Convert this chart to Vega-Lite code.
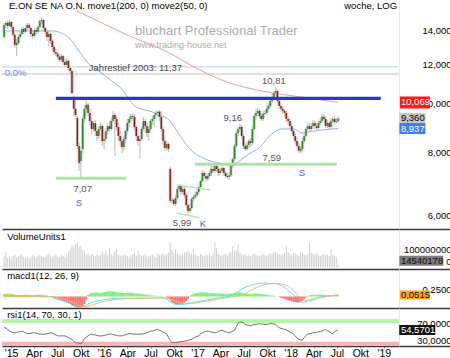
{
"$schema":"https://vega.github.io/schema/vega-lite/v6.json",
"padding":0,
"background":"white",
"spacing":0,
"bounds":"flush",
"config":{"font":"Liberation Sans","view":{"stroke":null},"axis":{"grid":false,"labelFont":"Liberation Sans","labelColor":"#000000","labelFontSize":9.5,"labelOverlap":false,"labelFlush":false,"title":null}},
"datasets":{
"w":[
{"d":"2014-12-05","o":13.59,"h":14.49,"l":13.47,"c":14.36,"v":60000000,"r":61,"m":0.02,"s":0,"hi":0.08},
{"d":"2014-12-12","o":14.36,"h":14.62,"l":14.16,"c":14.49,"v":82000000,"r":59,"m":0.02,"s":0,"hi":0.09},
{"d":"2014-12-19","o":14.49,"h":14.69,"l":14.10,"c":14.29,"v":52000000,"r":55,"m":0.02,"s":0,"hi":0.1},
{"d":"2014-12-26","o":14.29,"h":14.69,"l":14.23,"c":14.55,"v":58000000,"r":53,"m":0.02,"s":0,"hi":0.1},
{"d":"2015-01-02","o":14.55,"h":14.62,"l":14.10,"c":14.23,"v":45000000,"r":50,"m":0.02,"s":0,"hi":0.09},
{"d":"2015-01-09","o":14.23,"h":14.29,"l":13.59,"c":13.72,"v":62000000,"r":48,"m":0.02,"s":0,"hi":0.08},
{"d":"2015-01-16","o":13.72,"h":13.84,"l":12.93,"c":13.10,"v":70000000,"r":48,"m":0.02,"s":0,"hi":0.06},
{"d":"2015-01-23","o":13.10,"h":13.47,"l":12.46,"c":13.22,"v":55000000,"r":49,"m":0.02,"s":0,"hi":0.05},
{"d":"2015-01-30","o":13.22,"h":13.72,"l":13.10,"c":13.59,"v":60000000,"r":50,"m":0.02,"s":0,"hi":0.05},
{"d":"2015-02-06","o":13.59,"h":13.97,"l":13.47,"c":13.78,"v":66000000,"r":51,"m":0.02,"s":0,"hi":0.05},
{"d":"2015-02-13","o":13.78,"h":14.23,"l":13.72,"c":14.10,"v":72000000,"r":52,"m":0.02,"s":0,"hi":0.05},
{"d":"2015-02-20","o":14.10,"h":14.23,"l":13.78,"c":13.91,"v":55000000,"r":50,"m":0.02,"s":0,"hi":0.06},
{"d":"2015-02-27","o":13.91,"h":14.36,"l":13.84,"c":14.16,"v":52000000,"r":48,"m":0.02,"s":0,"hi":0.06},
{"d":"2015-03-06","o":14.16,"h":14.49,"l":14.03,"c":14.36,"v":60000000,"r":46,"m":0.02,"s":0,"hi":0.06},
{"d":"2015-03-13","o":14.36,"h":14.49,"l":14.03,"c":14.16,"v":48000000,"r":46,"m":0.02,"s":0,"hi":0.05},
{"d":"2015-03-20","o":14.16,"h":14.23,"l":13.59,"c":13.78,"v":58000000,"r":47,"m":0.02,"s":0,"hi":0.05},
{"d":"2015-03-27","o":13.78,"h":14.03,"l":13.47,"c":13.65,"v":66000000,"r":48,"m":0.02,"s":0,"hi":0.04},
{"d":"2015-04-03","o":13.65,"h":14.16,"l":13.53,"c":14.03,"v":60000000,"r":48,"m":0.02,"s":0,"hi":0.04},
{"d":"2015-04-10","o":14.03,"h":14.16,"l":13.78,"c":13.91,"v":52000000,"r":47,"m":0.02,"s":0,"hi":0.05},
{"d":"2015-04-17","o":13.91,"h":14.36,"l":13.78,"c":14.23,"v":63000000,"r":46,"m":0.02,"s":0,"hi":0.05},
{"d":"2015-04-24","o":14.23,"h":14.76,"l":14.16,"c":14.62,"v":70000000,"r":45,"m":0.02,"s":0,"hi":0.06},
{"d":"2015-05-01","o":14.62,"h":14.89,"l":14.42,"c":14.69,"v":62000000,"r":45,"m":0,"s":-0.01,"hi":0.06},
{"d":"2015-05-08","o":14.69,"h":14.76,"l":14.03,"c":14.16,"v":56000000,"r":45,"m":0,"s":-0.01,"hi":0.05},
{"d":"2015-05-15","o":14.16,"h":14.23,"l":13.78,"c":13.91,"v":54000000,"r":45,"m":0,"s":-0.01,"hi":0.04},
{"d":"2015-05-22","o":13.91,"h":13.97,"l":13.34,"c":13.59,"v":68000000,"r":46,"m":0,"s":-0.01,"hi":0.03},
{"d":"2015-05-29","o":13.59,"h":13.97,"l":13.04,"c":13.78,"v":75000000,"r":47,"m":0,"s":-0.01,"hi":0.02},
{"d":"2015-06-05","o":13.78,"h":13.84,"l":13.16,"c":13.34,"v":64000000,"r":48,"m":0,"s":-0.01,"hi":0.01},
{"d":"2015-06-12","o":13.34,"h":13.47,"l":12.75,"c":12.98,"v":58000000,"r":47,"m":-0.03,"s":-0.01,"hi":-0.03},
{"d":"2015-06-19","o":12.98,"h":13.10,"l":12.52,"c":12.69,"v":64000000,"r":45,"m":-0.05,"s":-0.01,"hi":-0.05},
{"d":"2015-06-26","o":12.69,"h":12.87,"l":12.46,"c":12.58,"v":70000000,"r":43,"m":-0.07,"s":-0.03,"hi":-0.06},
{"d":"2015-07-03","o":12.58,"h":12.69,"l":12.29,"c":12.41,"v":60000000,"r":41,"m":-0.09,"s":-0.04,"hi":-0.08},
{"d":"2015-07-10","o":12.41,"h":12.52,"l":12.12,"c":12.24,"v":56000000,"r":41,"m":-0.11,"s":-0.05,"hi":-0.1},
{"d":"2015-07-17","o":12.24,"h":12.58,"l":12.12,"c":12.46,"v":66000000,"r":41,"m":-0.13,"s":-0.07,"hi":-0.12},
{"d":"2015-07-24","o":12.46,"h":12.52,"l":11.96,"c":12.12,"v":62000000,"r":41,"m":-0.15,"s":-0.08,"hi":-0.14},
{"d":"2015-07-31","o":12.12,"h":12.29,"l":11.85,"c":11.96,"v":58000000,"r":41,"m":-0.17,"s":-0.1,"hi":-0.16},
{"d":"2015-08-07","o":11.96,"h":12.35,"l":11.85,"c":12.18,"v":68000000,"r":39,"m":-0.19,"s":-0.12,"hi":-0.19},
{"d":"2015-08-14","o":12.18,"h":12.24,"l":11.68,"c":11.79,"v":85000000,"r":37,"m":-0.21,"s":-0.14,"hi":-0.22},
{"d":"2015-08-21","o":11.79,"h":11.90,"l":11.47,"c":11.63,"v":98000000,"r":35,"m":-0.24,"s":-0.16,"hi":-0.25},
{"d":"2015-08-28","o":11.63,"h":11.74,"l":10.47,"c":10.51,"v":120000000,"r":33,"m":-0.28,"s":-0.18,"hi":-0.29},
{"d":"2015-09-04","o":10.28,"h":10.37,"l":9.47,"c":9.78,"v":108000000,"r":29,"m":-0.31,"s":-0.21,"hi":-0.32},
{"d":"2015-09-11","o":9.78,"h":10.23,"l":9.34,"c":9.51,"v":125000000,"r":26,"m":-0.33,"s":-0.24,"hi":-0.35},
{"d":"2015-09-18","o":9.38,"h":9.47,"l":8.14,"c":8.25,"v":135000000,"r":25,"m":-0.35,"s":-0.27,"hi":-0.36},
{"d":"2015-09-25","o":8.25,"h":8.37,"l":7.36,"c":7.63,"v":112000000,"r":24,"m":-0.36,"s":-0.29,"hi":-0.37},
{"d":"2015-10-02","o":7.70,"h":8.14,"l":7.10,"c":8.07,"v":118000000,"r":23,"m":-0.36,"s":-0.31,"hi":-0.36},
{"d":"2015-10-09","o":8.14,"h":9.47,"l":7.99,"c":9.34,"v":95000000,"r":28,"m":-0.34,"s":-0.32,"hi":-0.33},
{"d":"2015-10-16","o":9.34,"h":9.96,"l":9.17,"c":9.78,"v":88000000,"r":35,"m":-0.31,"s":-0.33,"hi":-0.25},
{"d":"2015-10-23","o":9.78,"h":10.14,"l":9.60,"c":9.96,"v":70000000,"r":38,"m":-0.28,"s":-0.33,"hi":-0.1},
{"d":"2015-10-30","o":9.96,"h":10.05,"l":9.47,"c":9.60,"v":76000000,"r":41,"m":-0.25,"s":-0.32,"hi":0.05},
{"d":"2015-11-06","o":9.60,"h":9.78,"l":9.08,"c":9.25,"v":64000000,"r":44,"m":-0.22,"s":-0.31,"hi":0.09},
{"d":"2015-11-13","o":9.25,"h":9.38,"l":8.68,"c":8.92,"v":72000000,"r":45,"m":-0.2,"s":-0.29,"hi":0.12},
{"d":"2015-11-20","o":8.92,"h":9.25,"l":8.80,"c":9.17,"v":66000000,"r":44,"m":-0.18,"s":-0.27,"hi":0.13},
{"d":"2015-11-27","o":9.17,"h":9.29,"l":8.64,"c":8.84,"v":60000000,"r":43,"m":-0.16,"s":-0.25,"hi":0.13},
{"d":"2015-12-04","o":8.84,"h":9.00,"l":8.44,"c":8.64,"v":70000000,"r":42,"m":-0.15,"s":-0.23,"hi":0.13},
{"d":"2015-12-11","o":8.64,"h":9.04,"l":8.52,"c":8.92,"v":64000000,"r":41,"m":-0.14,"s":-0.21,"hi":0.12},
{"d":"2015-12-18","o":8.92,"h":9.21,"l":8.84,"c":9.04,"v":68000000,"r":41,"m":-0.13,"s":-0.19,"hi":0.12},
{"d":"2015-12-25","o":9.04,"h":9.12,"l":8.25,"c":8.44,"v":82000000,"r":41,"m":-0.12,"s":-0.17,"hi":0.13},
{"d":"2016-01-01","o":8.44,"h":8.76,"l":8.14,"c":8.52,"v":75000000,"r":42,"m":-0.11,"s":-0.16,"hi":0.14},
{"d":"2016-01-08","o":8.52,"h":8.96,"l":8.40,"c":8.84,"v":92000000,"r":43,"m":-0.1,"s":-0.15,"hi":0.16},
{"d":"2016-01-15","o":8.84,"h":9.17,"l":8.72,"c":9.04,"v":70000000,"r":44,"m":-0.09,"s":-0.14,"hi":0.17},
{"d":"2016-01-22","o":9.04,"h":9.25,"l":8.80,"c":8.92,"v":104000000,"r":45,"m":-0.08,"s":-0.13,"hi":0.18},
{"d":"2016-01-29","o":8.92,"h":9.38,"l":8.84,"c":9.25,"v":72000000,"r":45,"m":-0.08,"s":-0.12,"hi":0.18},
{"d":"2016-02-05","o":9.25,"h":9.69,"l":9.17,"c":9.51,"v":66000000,"r":44,"m":-0.07,"s":-0.11,"hi":0.17},
{"d":"2016-02-12","o":9.51,"h":9.60,"l":7.88,"c":9.34,"v":88000000,"r":43,"m":-0.07,"s":-0.1,"hi":0.16},
{"d":"2016-02-19","o":9.34,"h":9.47,"l":8.84,"c":9.00,"v":100000000,"r":42,"m":-0.07,"s":-0.1,"hi":0.15},
{"d":"2016-02-26","o":9.00,"h":9.17,"l":8.44,"c":8.64,"v":70000000,"r":41,"m":-0.07,"s":-0.09,"hi":0.14},
{"d":"2016-03-04","o":8.64,"h":8.84,"l":8.25,"c":8.44,"v":64000000,"r":41,"m":-0.07,"s":-0.09,"hi":0.13},
{"d":"2016-03-11","o":8.44,"h":8.56,"l":7.99,"c":8.21,"v":60000000,"r":41,"m":-0.06,"s":-0.08,"hi":0.13},
{"d":"2016-03-18","o":8.21,"h":8.64,"l":8.07,"c":8.52,"v":72000000,"r":42,"m":-0.06,"s":-0.08,"hi":0.12},
{"d":"2016-03-25","o":8.52,"h":8.92,"l":8.37,"c":8.84,"v":68000000,"r":44,"m":-0.06,"s":-0.08,"hi":0.12},
{"d":"2016-04-01","o":8.84,"h":9.34,"l":8.72,"c":9.17,"v":62000000,"r":45,"m":-0.06,"s":-0.07,"hi":0.13},
{"d":"2016-04-08","o":9.17,"h":9.47,"l":9.00,"c":9.34,"v":58000000,"r":46,"m":-0.06,"s":-0.07,"hi":0.13},
{"d":"2016-04-15","o":9.34,"h":9.56,"l":9.17,"c":9.47,"v":66000000,"r":46,"m":-0.06,"s":-0.07,"hi":0.13},
{"d":"2016-04-22","o":9.47,"h":9.60,"l":9.25,"c":9.43,"v":70000000,"r":45,"m":-0.06,"s":-0.07,"hi":0.12},
{"d":"2016-04-29","o":9.43,"h":9.56,"l":8.84,"c":9.00,"v":80000000,"r":45,"m":-0.06,"s":-0.07,"hi":0.11},
{"d":"2016-05-06","o":9.00,"h":9.08,"l":8.44,"c":8.64,"v":64000000,"r":45,"m":-0.06,"s":-0.06,"hi":0.1},
{"d":"2016-05-13","o":8.64,"h":8.72,"l":8.25,"c":8.44,"v":94000000,"r":45,"m":-0.06,"s":-0.06,"hi":0.1},
{"d":"2016-05-20","o":8.44,"h":8.68,"l":7.81,"c":8.52,"v":70000000,"r":45,"m":-0.05,"s":-0.06,"hi":0.1},
{"d":"2016-05-27","o":8.52,"h":9.00,"l":8.44,"c":8.92,"v":60000000,"r":45,"m":-0.05,"s":-0.06,"hi":0.09},
{"d":"2016-06-03","o":8.92,"h":9.43,"l":8.84,"c":9.25,"v":66000000,"r":46,"m":-0.05,"s":-0.06,"hi":0.08},
{"d":"2016-06-10","o":9.25,"h":9.34,"l":8.76,"c":9.04,"v":72000000,"r":47,"m":-0.05,"s":-0.06,"hi":0.07},
{"d":"2016-06-17","o":9.04,"h":9.17,"l":8.60,"c":8.76,"v":58000000,"r":49,"m":-0.05,"s":-0.06,"hi":0.06},
{"d":"2016-06-24","o":8.76,"h":9.04,"l":8.44,"c":8.92,"v":62000000,"r":50,"m":-0.05,"s":-0.05,"hi":0.05},
{"d":"2016-07-01","o":8.92,"h":9.34,"l":8.84,"c":9.25,"v":66000000,"r":52,"m":-0.05,"s":-0.05,"hi":0.04},
{"d":"2016-07-08","o":9.25,"h":9.47,"l":9.08,"c":9.34,"v":70000000,"r":52,"m":-0.05,"s":-0.05,"hi":0.03},
{"d":"2016-07-15","o":9.34,"h":9.60,"l":9.00,"c":9.51,"v":60000000,"r":53,"m":-0.05,"s":-0.05,"hi":0.03},
{"d":"2016-07-22","o":9.51,"h":9.69,"l":9.34,"c":9.60,"v":56000000,"r":55,"m":-0.05,"s":-0.05,"hi":0.03},
{"d":"2016-07-29","o":9.60,"h":9.69,"l":9.43,"c":9.65,"v":78000000,"r":56,"m":-0.05,"s":-0.05,"hi":0.02},
{"d":"2016-08-05","o":9.65,"h":9.73,"l":9.25,"c":9.43,"v":64000000,"r":54,"m":-0.05,"s":-0.05,"hi":0.02},
{"d":"2016-08-12","o":9.43,"h":9.69,"l":8.80,"c":8.92,"v":70000000,"r":52,"m":-0.05,"s":-0.05,"hi":0.02},
{"d":"2016-08-19","o":8.92,"h":9.00,"l":8.29,"c":8.44,"v":76000000,"r":50,"m":-0.05,"s":-0.05,"hi":0.01},
{"d":"2016-08-26","o":8.44,"h":8.60,"l":8.07,"c":8.18,"v":66000000,"r":48,"m":-0.05,"s":-0.05,"hi":0},
{"d":"2016-09-02","o":8.18,"h":8.44,"l":8.07,"c":8.33,"v":72000000,"r":45,"m":-0.08,"s":-0.05,"hi":-0.03},
{"d":"2016-09-09","o":8.33,"h":8.40,"l":8.03,"c":8.14,"v":82000000,"r":38,"m":-0.12,"s":-0.06,"hi":-0.06},
{"d":"2016-09-16","o":7.43,"h":7.50,"l":6.36,"c":6.42,"v":134000000,"r":30,"m":-0.18,"s":-0.08,"hi":-0.12},
{"d":"2016-09-23","o":6.42,"h":6.53,"l":6.33,"c":6.45,"v":95000000,"r":26,"m":-0.22,"s":-0.1,"hi":-0.18},
{"d":"2016-09-30","o":6.45,"h":6.50,"l":6.27,"c":6.33,"v":82000000,"r":26,"m":-0.25,"s":-0.13,"hi":-0.22},
{"d":"2016-10-07","o":6.33,"h":6.59,"l":6.27,"c":6.50,"v":100000000,"r":26,"m":-0.26,"s":-0.16,"hi":-0.25},
{"d":"2016-10-14","o":6.50,"h":6.87,"l":6.45,"c":6.78,"v":74000000,"r":26,"m":-0.26,"s":-0.18,"hi":-0.27},
{"d":"2016-10-21","o":6.78,"h":6.93,"l":6.69,"c":6.87,"v":70000000,"r":27,"m":-0.26,"s":-0.2,"hi":-0.27},
{"d":"2016-10-28","o":6.87,"h":6.93,"l":6.59,"c":6.69,"v":66000000,"r":28,"m":-0.26,"s":-0.21,"hi":-0.26},
{"d":"2016-11-04","o":6.69,"h":6.87,"l":6.62,"c":6.78,"v":72000000,"r":28,"m":-0.26,"s":-0.22,"hi":-0.24},
{"d":"2016-11-11","o":6.78,"h":6.84,"l":6.50,"c":6.59,"v":78000000,"r":29,"m":-0.26,"s":-0.23,"hi":-0.2},
{"d":"2016-11-18","o":6.59,"h":6.66,"l":6.21,"c":6.30,"v":84000000,"r":30,"m":-0.25,"s":-0.23,"hi":-0.15},
{"d":"2016-11-25","o":6.30,"h":6.36,"l":5.99,"c":6.13,"v":90000000,"r":31,"m":-0.24,"s":-0.23,"hi":-0.08},
{"d":"2016-12-02","o":6.13,"h":6.33,"l":6.07,"c":6.21,"v":80000000,"r":32,"m":-0.22,"s":-0.23,"hi":0.02},
{"d":"2016-12-09","o":6.21,"h":6.53,"l":6.16,"c":6.48,"v":74000000,"r":33,"m":-0.21,"s":-0.23,"hi":0.06},
{"d":"2016-12-16","o":6.48,"h":6.62,"l":6.39,"c":6.53,"v":100000000,"r":36,"m":-0.2,"s":-0.22,"hi":0.09},
{"d":"2016-12-23","o":6.53,"h":6.69,"l":6.48,"c":6.59,"v":70000000,"r":38,"m":-0.19,"s":-0.22,"hi":0.11},
{"d":"2016-12-30","o":6.59,"h":6.78,"l":6.53,"c":6.69,"v":64000000,"r":40,"m":-0.18,"s":-0.21,"hi":0.12},
{"d":"2017-01-06","o":6.69,"h":6.90,"l":6.62,"c":6.84,"v":60000000,"r":41,"m":-0.17,"s":-0.2,"hi":0.13},
{"d":"2017-01-13","o":6.84,"h":7.10,"l":6.78,"c":7.03,"v":72000000,"r":45,"m":-0.15,"s":-0.19,"hi":0.14},
{"d":"2017-01-20","o":7.03,"h":7.39,"l":6.97,"c":7.29,"v":68000000,"r":48,"m":-0.14,"s":-0.18,"hi":0.14},
{"d":"2017-01-27","o":7.29,"h":7.36,"l":7.10,"c":7.19,"v":62000000,"r":50,"m":-0.13,"s":-0.17,"hi":0.14},
{"d":"2017-02-03","o":7.19,"h":7.29,"l":7.00,"c":7.10,"v":70000000,"r":51,"m":-0.12,"s":-0.16,"hi":0.13},
{"d":"2017-02-10","o":7.10,"h":7.26,"l":7.03,"c":7.19,"v":66000000,"r":52,"m":-0.11,"s":-0.15,"hi":0.13},
{"d":"2017-02-17","o":7.19,"h":7.36,"l":7.13,"c":7.29,"v":74000000,"r":51,"m":-0.1,"s":-0.14,"hi":0.12},
{"d":"2017-02-24","o":7.29,"h":7.53,"l":7.19,"c":7.43,"v":60000000,"r":50,"m":-0.09,"s":-0.13,"hi":0.12},
{"d":"2017-03-03","o":7.43,"h":7.56,"l":7.29,"c":7.36,"v":70000000,"r":49,"m":-0.08,"s":-0.12,"hi":0.12},
{"d":"2017-03-10","o":7.36,"h":7.60,"l":7.29,"c":7.53,"v":134000000,"r":48,"m":-0.07,"s":-0.11,"hi":0.11},
{"d":"2017-03-17","o":7.53,"h":7.60,"l":7.33,"c":7.43,"v":106000000,"r":49,"m":-0.06,"s":-0.1,"hi":0.11},
{"d":"2017-03-24","o":7.43,"h":7.50,"l":7.19,"c":7.29,"v":72000000,"r":51,"m":-0.05,"s":-0.09,"hi":0.1},
{"d":"2017-03-31","o":7.29,"h":7.46,"l":7.22,"c":7.36,"v":66000000,"r":53,"m":-0.04,"s":-0.08,"hi":0.1},
{"d":"2017-04-07","o":7.36,"h":7.53,"l":7.29,"c":7.46,"v":62000000,"r":54,"m":-0.03,"s":-0.07,"hi":0.1},
{"d":"2017-04-14","o":7.46,"h":7.50,"l":7.19,"c":7.29,"v":70000000,"r":52,"m":-0.02,"s":-0.06,"hi":0.09},
{"d":"2017-04-21","o":7.29,"h":7.36,"l":7.13,"c":7.19,"v":76000000,"r":50,"m":-0.01,"s":-0.05,"hi":0.09},
{"d":"2017-04-28","o":7.19,"h":7.29,"l":7.10,"c":7.16,"v":66000000,"r":49,"m":0,"s":-0.04,"hi":0.09},
{"d":"2017-05-05","o":7.16,"h":7.33,"l":7.06,"c":7.22,"v":80000000,"r":48,"m":0.01,"s":-0.03,"hi":0.09},
{"d":"2017-05-12","o":7.22,"h":7.60,"l":7.16,"c":7.53,"v":84000000,"r":50,"m":0.03,"s":-0.02,"hi":0.1},
{"d":"2017-05-19","o":7.53,"h":7.84,"l":7.46,"c":7.77,"v":115000000,"r":52,"m":0.05,"s":-0.01,"hi":0.11},
{"d":"2017-05-26","o":7.77,"h":8.33,"l":7.70,"c":8.25,"v":90000000,"r":54,"m":0.08,"s":0,"hi":0.12},
{"d":"2017-06-02","o":8.25,"h":8.84,"l":8.18,"c":8.76,"v":92000000,"r":62,"m":0.12,"s":0.01,"hi":0.13},
{"d":"2017-06-09","o":8.76,"h":9.00,"l":8.64,"c":8.92,"v":125000000,"r":70,"m":0.16,"s":0.02,"hi":0.14},
{"d":"2017-06-16","o":8.92,"h":9.16,"l":8.80,"c":9.00,"v":80000000,"r":72,"m":0.2,"s":0.03,"hi":0.14},
{"d":"2017-06-23","o":9.00,"h":9.08,"l":8.52,"c":8.64,"v":70000000,"r":73,"m":0.25,"s":0.05,"hi":0.13},
{"d":"2017-06-30","o":8.64,"h":8.72,"l":8.14,"c":8.25,"v":66000000,"r":70,"m":0.28,"s":0.08,"hi":0.12},
{"d":"2017-07-07","o":8.25,"h":8.37,"l":8.07,"c":8.14,"v":72000000,"r":67,"m":0.31,"s":0.11,"hi":0.11},
{"d":"2017-07-14","o":8.14,"h":8.40,"l":8.07,"c":8.29,"v":62000000,"r":66,"m":0.33,"s":0.14,"hi":0.1},
{"d":"2017-07-21","o":8.29,"h":8.52,"l":8.18,"c":8.44,"v":68000000,"r":65,"m":0.35,"s":0.17,"hi":0.09},
{"d":"2017-07-28","o":8.44,"h":8.56,"l":8.21,"c":8.37,"v":60000000,"r":64,"m":0.37,"s":0.2,"hi":0.09},
{"d":"2017-08-04","o":8.37,"h":9.04,"l":8.29,"c":8.92,"v":70000000,"r":66,"m":0.39,"s":0.23,"hi":0.09},
{"d":"2017-08-11","o":8.92,"h":9.56,"l":8.84,"c":9.47,"v":76000000,"r":67,"m":0.41,"s":0.26,"hi":0.1},
{"d":"2017-08-18","o":9.47,"h":9.78,"l":9.34,"c":9.60,"v":70000000,"r":67,"m":0.42,"s":0.29,"hi":0.1},
{"d":"2017-08-25","o":9.60,"h":9.82,"l":9.47,"c":9.69,"v":64000000,"r":68,"m":0.43,"s":0.32,"hi":0.1},
{"d":"2017-09-01","o":9.69,"h":9.78,"l":9.34,"c":9.47,"v":60000000,"r":69,"m":0.44,"s":0.34,"hi":0.09},
{"d":"2017-09-08","o":9.47,"h":9.60,"l":9.25,"c":9.34,"v":68000000,"r":68,"m":0.45,"s":0.36,"hi":0.08},
{"d":"2017-09-15","o":9.34,"h":9.69,"l":9.25,"c":9.56,"v":74000000,"r":68,"m":0.45,"s":0.38,"hi":0.08},
{"d":"2017-09-22","o":9.56,"h":9.73,"l":9.43,"c":9.60,"v":66000000,"r":67,"m":0.45,"s":0.4,"hi":0.07},
{"d":"2017-09-29","o":9.60,"h":9.96,"l":9.51,"c":9.78,"v":62000000,"r":67,"m":0.45,"s":0.41,"hi":0.06},
{"d":"2017-10-06","o":9.78,"h":10.05,"l":9.69,"c":9.91,"v":70000000,"r":68,"m":0.44,"s":0.42,"hi":0.05},
{"d":"2017-10-13","o":9.91,"h":10.28,"l":9.82,"c":10.14,"v":78000000,"r":69,"m":0.44,"s":0.42,"hi":0.04},
{"d":"2017-10-20","o":10.14,"h":10.47,"l":10.05,"c":10.32,"v":72000000,"r":69,"m":0.43,"s":0.43,"hi":0.03},
{"d":"2017-10-27","o":10.32,"h":10.61,"l":10.23,"c":10.51,"v":80000000,"r":68,"m":0.43,"s":0.43,"hi":0.02},
{"d":"2017-11-03","o":10.51,"h":10.81,"l":10.37,"c":10.61,"v":84000000,"r":67,"m":0.43,"s":0.43,"hi":0.01},
{"d":"2017-11-10","o":10.61,"h":10.71,"l":10.05,"c":10.14,"v":76000000,"r":63,"m":0.42,"s":0.43,"hi":0},
{"d":"2017-11-17","o":10.14,"h":10.23,"l":9.78,"c":9.91,"v":70000000,"r":60,"m":0.4,"s":0.43,"hi":-0.02},
{"d":"2017-11-24","o":9.91,"h":10.05,"l":9.65,"c":9.78,"v":66000000,"r":58,"m":0.37,"s":0.42,"hi":-0.04},
{"d":"2017-12-01","o":9.78,"h":9.91,"l":9.56,"c":9.69,"v":72000000,"r":57,"m":0.34,"s":0.41,"hi":-0.06},
{"d":"2017-12-08","o":9.69,"h":9.78,"l":9.43,"c":9.60,"v":80000000,"r":56,"m":0.3,"s":0.39,"hi":-0.08},
{"d":"2017-12-15","o":9.60,"h":9.69,"l":9.21,"c":9.34,"v":115000000,"r":55,"m":0.26,"s":0.37,"hi":-0.1},
{"d":"2017-12-22","o":9.34,"h":9.47,"l":9.08,"c":9.25,"v":82000000,"r":52,"m":0.2,"s":0.35,"hi":-0.12},
{"d":"2017-12-29","o":9.25,"h":9.38,"l":8.92,"c":9.04,"v":74000000,"r":50,"m":0.15,"s":0.3,"hi":-0.14},
{"d":"2018-01-05","o":9.04,"h":9.17,"l":8.72,"c":8.84,"v":70000000,"r":48,"m":0.12,"s":0.25,"hi":-0.16},
{"d":"2018-01-12","o":8.84,"h":8.96,"l":8.52,"c":8.64,"v":78000000,"r":45,"m":0.06,"s":0.2,"hi":-0.18},
{"d":"2018-01-19","o":8.64,"h":8.76,"l":8.33,"c":8.44,"v":76000000,"r":41,"m":0,"s":0.12,"hi":-0.19},
{"d":"2018-01-26","o":8.44,"h":8.56,"l":8.14,"c":8.25,"v":70000000,"r":36,"m":-0.06,"s":0.06,"hi":-0.2},
{"d":"2018-02-02","o":8.25,"h":8.37,"l":7.99,"c":8.07,"v":64000000,"r":33,"m":-0.12,"s":0,"hi":-0.2},
{"d":"2018-02-09","o":8.07,"h":8.25,"l":7.96,"c":8.14,"v":82000000,"r":32,"m":-0.18,"s":-0.05,"hi":-0.18},
{"d":"2018-02-16","o":8.14,"h":8.56,"l":8.03,"c":8.44,"v":76000000,"r":31,"m":-0.22,"s":-0.1,"hi":-0.14},
{"d":"2018-02-23","o":8.44,"h":8.76,"l":8.37,"c":8.64,"v":70000000,"r":37,"m":-0.2,"s":-0.13,"hi":-0.08},
{"d":"2018-03-02","o":8.64,"h":9.00,"l":8.56,"c":8.92,"v":66000000,"r":42,"m":-0.17,"s":-0.15,"hi":-0.02},
{"d":"2018-03-09","o":8.92,"h":9.17,"l":8.84,"c":9.04,"v":72000000,"r":45,"m":-0.14,"s":-0.15,"hi":0.02},
{"d":"2018-03-16","o":9.04,"h":9.17,"l":8.80,"c":8.92,"v":134000000,"r":46,"m":-0.12,"s":-0.15,"hi":0.04},
{"d":"2018-03-23","o":8.92,"h":9.17,"l":8.84,"c":9.04,"v":80000000,"r":47,"m":-0.1,"s":-0.14,"hi":0.05},
{"d":"2018-03-30","o":9.04,"h":9.29,"l":8.92,"c":9.17,"v":74000000,"r":48,"m":-0.08,"s":-0.12,"hi":0.06},
{"d":"2018-04-06","o":9.17,"h":9.25,"l":8.92,"c":9.04,"v":70000000,"r":48,"m":-0.06,"s":-0.1,"hi":0.06},
{"d":"2018-04-13","o":9.04,"h":9.17,"l":8.84,"c":8.96,"v":76000000,"r":49,"m":-0.04,"s":-0.08,"hi":0.06},
{"d":"2018-04-20","o":8.96,"h":9.25,"l":8.88,"c":9.17,"v":68000000,"r":50,"m":-0.03,"s":-0.06,"hi":0.06},
{"d":"2018-04-27","o":9.17,"h":9.38,"l":9.08,"c":9.25,"v":62000000,"r":51,"m":-0.02,"s":-0.04,"hi":0.06},
{"d":"2018-05-04","o":9.25,"h":9.56,"l":9.17,"c":9.43,"v":70000000,"r":52,"m":-0.01,"s":-0.03,"hi":0.06},
{"d":"2018-05-11","o":9.43,"h":9.56,"l":9.21,"c":9.34,"v":74000000,"r":54,"m":0,"s":-0.02,"hi":0.05},
{"d":"2018-05-18","o":9.34,"h":9.43,"l":8.96,"c":9.04,"v":66000000,"r":56,"m":0.01,"s":-0.01,"hi":0.05},
{"d":"2018-05-25","o":9.04,"h":9.29,"l":8.96,"c":9.17,"v":70000000,"r":53,"m":0.02,"s":0,"hi":0.05},
{"d":"2018-06-01","o":9.17,"h":9.25,"l":8.92,"c":9.00,"v":60000000,"r":51,"m":0.02,"s":0.01,"hi":0.05},
{"d":"2018-06-08","o":9.00,"h":9.38,"l":8.92,"c":9.25,"v":100000000,"r":48,"m":0.03,"s":0.02,"hi":0.05},
{"d":"2018-06-15","o":9.25,"h":9.47,"l":9.17,"c":9.34,"v":66000000,"r":46,"m":0.03,"s":0.03,"hi":0.05},
{"d":"2018-06-22","o":9.34,"h":9.43,"l":9.08,"c":9.21,"v":62000000,"r":50,"m":0.04,"s":0.04,"hi":0.05},
{"d":"2018-06-29","o":9.21,"h":9.38,"l":9.12,"c":9.25,"v":58000000,"r":53,"m":0.04,"s":0.05,"hi":0.05},
{"d":"2018-07-06","o":9.25,"h":9.47,"l":9.17,"c":9.36,"v":14540178,"r":54.5701,"m":0.05,"s":0.0515,"hi":0.05}
],
"ma":[
{"d":"2015-09-16","p":15.31,"k":"ma200"},{"d":"2015-12-23","p":14.49,"k":"ma200"},{"d":"2016-03-23","p":13.78,"k":"ma200"},{"d":"2016-08-27","p":12.75,"k":"ma200"},{"d":"2017-01-18","p":11.63,"k":"ma200"},{"d":"2017-04-26","p":11.06,"k":"ma200"},{"d":"2017-09-11","p":10.61,"k":"ma200"},{"d":"2018-02-14","p":10.32,"k":"ma200"},{"d":"2018-07-06","p":10.069,"k":"ma200"},
{"d":"2014-11-27","p":13.97,"k":"ma50"},{"d":"2015-06-11","p":13.97,"k":"ma50"},{"d":"2015-08-16","p":13.53,"k":"ma50"},{"d":"2015-09-24","p":12.75,"k":"ma50"},{"d":"2015-11-02","p":12.01,"k":"ma50"},{"d":"2015-12-11","p":11.63,"k":"ma50"},{"d":"2016-01-31","p":11.11,"k":"ma50"},{"d":"2016-03-10","p":10.71,"k":"ma50"},{"d":"2016-04-30","p":9.91,"k":"ma50"},{"d":"2016-07-18","p":9.60,"k":"ma50"},{"d":"2016-09-15","p":9.25,"k":"ma50"},{"d":"2016-10-20","p":8.72,"k":"ma50"},{"d":"2016-11-28","p":8.18,"k":"ma50"},{"d":"2017-01-30","p":7.78,"k":"ma50"},{"d":"2017-03-26","p":7.63,"k":"ma50"},{"d":"2017-05-08","p":7.56,"k":"ma50"},{"d":"2017-07-22","p":7.96,"k":"ma50"},{"d":"2017-08-30","p":8.18,"k":"ma50"},{"d":"2017-10-19","p":8.72,"k":"ma50"},{"d":"2017-11-27","p":8.92,"k":"ma50"},{"d":"2018-01-13","p":8.92,"k":"ma50"},{"d":"2018-02-14","p":8.76,"k":"ma50"},{"d":"2018-04-05","p":8.84,"k":"ma50"},{"d":"2018-06-11","p":8.92,"k":"ma50"},{"d":"2018-07-06","p":8.937,"k":"ma50"}
],
"segs":[
{"d1":"2014-11-27","d2":"2019-03-01","p1":11.85,"p2":11.85,"k":"jt"},
{"d1":"2014-11-27","d2":"2019-03-01","p1":11.47,"p2":11.47,"k":"fib"},
{"d1":"2015-06-26","d2":"2018-12-20","p1":10.26,"p2":10.26,"k":"res"},
{"d1":"2015-06-26","d2":"2016-03-27","p1":7.12,"p2":7.12,"k":"sup"},
{"d1":"2016-12-21","d2":"2018-07-01","p1":7.59,"p2":7.59,"k":"sup"},
{"d1":"2016-10-12","d2":"2017-02-19","p1":6.90,"p2":6.75,"k":"ch"},
{"d1":"2016-10-12","d2":"2017-01-11","p1":6.07,"p2":5.94,"k":"ch"}
],
"notes":[
{"d":"2014-12-24","p":15.66,"t":"E.ON SE NA O.N. move1(200, 0) move2(50, 0)","k":"title"},
{"d":"2017-10-27","p":11.11,"t":"10,81","k":"price"},
{"d":"2017-05-19","p":9.38,"t":"9,16","k":"price"},
{"d":"2017-10-19","p":7.81,"t":"7,59","k":"price"},
{"d":"2015-10-09","p":6.78,"t":"7,07","k":"price"},
{"d":"2016-11-01","p":5.80,"t":"5,99","k":"price"},
{"d":"2018-02-14","p":7.29,"t":"S","k":"sig"},
{"d":"2015-09-24","p":6.36,"t":"S","k":"sig"},
{"d":"2017-01-22","p":5.77,"t":"K","k":"sig"},
{"d":"2015-11-02","p":11.79,"t":"Jahrestief 2003: 11,37","k":"note"},
{"d":"2014-12-08","p":11.52,"t":"0.0%","k":"fib"},
{"d":"2016-05-01","p":13.97,"t":"bluchart Professional Trader","k":"brand"},
{"d":"2016-05-01","p":13.10,"t":"www.trading-house.net","k":"url"},
{"d":"2019-02-22","p":15.66,"t":"woche, LOG","k":"mode"}
],
"ptitles":[
{"pn":"vol","t":"VolumeUnits1","v":164900000},
{"pn":"macd","t":"macd1(12, 26, 9)","v":0.683},
{"pn":"rsi","t":"rsi1(14, 70, 30, 1)","v":88.7}
],
"tags":[
{"pn":"price","k":"ma200","v":10.069,"t":"10,069"},
{"pn":"price","k":"close","v":9.36,"t":"9,360"},
{"pn":"price","k":"ma50","v":8.937,"t":"8,937"},
{"pn":"vol","k":"vol","v":14540178,"t":"14540178"},
{"pn":"macd","k":"sig","v":0.0515,"t":"0,0515"},
{"pn":"rsi","k":"rsi","v":54.5701,"t":"54,5701"}
],
"bands":[
{"d1":"2014-11-27","d2":"2019-03-01","lo":70,"hi":79.6,"k":"ob"},
{"d1":"2014-11-27","d2":"2019-03-01","lo":19.5,"hi":27.7,"k":"os"}
]
},
"vconcat":[
{
"width":450,"height":228,
"layer":[
{"data":{"name":"segs"},"transform":[{"filter":"datum.k=='jt'"}],"mark":{"type":"rule","color":"#c6d6fb","strokeWidth":1.2},
"encoding":{"x":{"field":"d1","type":"temporal","scale":{"nice":false,"domain":[{"year":2014,"month":11,"date":26,"hours":18,"utc":true},{"year":2019,"month":9,"date":25,"hours":6,"utc":true}]},"axis":{"orient":"bottom","labels":false,"ticks":false,"grid":false,"title":null,"domainColor":"#3a3a3a","domainWidth":1.6}},"x2":{"field":"d2"},
"y":{"field":"p1","type":"quantitative","scale":{"type":"log","nice":false,"domain":[5.644,16.02]},"axis":{"orient":"right","offset":-53,"values":[6,8,10,12,14],"tickCount":10,"labelExpr":"replace(format(datum.value,'.3f'),'.',',')","ticks":false,"tickSize":0,"labelAlign":"right","labelPadding":52,"labelOverlap":false,"domainColor":"#e3cf93","domainDash":[1,1],"grid":false,"title":null}},"y2":{"field":"p2"}}},
{"data":{"name":"segs"},"transform":[{"filter":"datum.k=='fib'"}],"mark":{"type":"rule","color":"#d6d6d6","strokeWidth":1.6},
"encoding":{"x":{"field":"d1","type":"temporal"},"x2":{"field":"d2"},"y":{"field":"p1","type":"quantitative"},"y2":{"field":"p2"}}},
{"data":{"name":"ma"},"transform":[{"filter":"datum.k=='ma200'"}],"mark":{"type":"line","color":"#f39a9a","strokeWidth":1,"interpolate":"monotone"},
"encoding":{"x":{"field":"d","type":"temporal"},"y":{"field":"p","type":"quantitative"}}},
{"data":{"name":"ma"},"transform":[{"filter":"datum.k=='ma50'"}],"mark":{"type":"line","color":"#8eaef5","strokeWidth":1,"interpolate":"monotone"},
"encoding":{"x":{"field":"d","type":"temporal"},"y":{"field":"p","type":"quantitative"}}},
{"data":{"name":"w"},"mark":{"type":"rule","color":"#c4c4c4","strokeWidth":1.2},
"encoding":{"x":{"field":"d","type":"temporal"},"y":{"field":"l","type":"quantitative"},"y2":{"field":"h"}}},
{"data":{"name":"w"},"mark":{"type":"rule","color":"#c4c4c4","strokeWidth":3},
"encoding":{"x":{"field":"d","type":"temporal"},"y":{"field":"o","type":"quantitative"},"y2":{"field":"c"}}},
{"data":{"name":"w"},"mark":{"type":"rule","strokeWidth":1.4},
"encoding":{"x":{"field":"d","type":"temporal"},"y":{"field":"o","type":"quantitative"},"y2":{"field":"c"},"color":{"condition":{"test":"datum.c >= datum.o","value":"#1e8e1e"},"value":"#9e1414"}}},
{"data":{"name":"segs"},"transform":[{"filter":"datum.k=='res'"}],"mark":{"type":"rule","color":"#2838c8","strokeWidth":3.2},
"encoding":{"x":{"field":"d1","type":"temporal"},"x2":{"field":"d2"},"y":{"field":"p1","type":"quantitative"},"y2":{"field":"p2"}}},
{"data":{"name":"segs"},"transform":[{"filter":"datum.k=='sup'"}],"mark":{"type":"rule","color":"#a6e6a0","strokeWidth":3},
"encoding":{"x":{"field":"d1","type":"temporal"},"x2":{"field":"d2"},"y":{"field":"p1","type":"quantitative"},"y2":{"field":"p2"}}},
{"data":{"name":"segs"},"transform":[{"filter":"datum.k=='ch'"}],"mark":{"type":"rule","color":"#a6e6a0","strokeWidth":1.3},
"encoding":{"x":{"field":"d1","type":"temporal"},"x2":{"field":"d2"},"y":{"field":"p1","type":"quantitative"},"y2":{"field":"p2"}}},
{"data":{"name":"notes"},"transform":[{"filter":"datum.k=='title'"}],"mark":{"type":"text","align":"left","baseline":"middle","fontSize":9.5,"color":"#000000"},
"encoding":{"x":{"field":"d","type":"temporal"},"y":{"field":"p","type":"quantitative"},"text":{"field":"t"}}},
{"data":{"name":"notes"},"transform":[{"filter":"datum.k=='price'"}],"mark":{"type":"text","align":"center","baseline":"middle","fontSize":9.5,"color":"#555555"},
"encoding":{"x":{"field":"d","type":"temporal"},"y":{"field":"p","type":"quantitative"},"text":{"field":"t"}}},
{"data":{"name":"notes"},"transform":[{"filter":"datum.k=='sig'"}],"mark":{"type":"text","align":"center","baseline":"middle","fontSize":9.5,"color":"#4b5be6"},
"encoding":{"x":{"field":"d","type":"temporal"},"y":{"field":"p","type":"quantitative"},"text":{"field":"t"}}},
{"data":{"name":"notes"},"transform":[{"filter":"datum.k=='note'"}],"mark":{"type":"text","align":"left","baseline":"middle","fontSize":9.5,"color":"#454545"},
"encoding":{"x":{"field":"d","type":"temporal"},"y":{"field":"p","type":"quantitative"},"text":{"field":"t"}}},
{"data":{"name":"notes"},"transform":[{"filter":"datum.k=='fib'"}],"mark":{"type":"text","align":"left","baseline":"middle","fontSize":9.5,"color":"#5a8cf2"},
"encoding":{"x":{"field":"d","type":"temporal"},"y":{"field":"p","type":"quantitative"},"text":{"field":"t"}}},
{"data":{"name":"notes"},"transform":[{"filter":"datum.k=='brand'"}],"mark":{"type":"text","align":"left","baseline":"middle","fontSize":13,"color":"#ababab"},
"encoding":{"x":{"field":"d","type":"temporal"},"y":{"field":"p","type":"quantitative"},"text":{"field":"t"}}},
{"data":{"name":"notes"},"transform":[{"filter":"datum.k=='url'"}],"mark":{"type":"text","align":"left","baseline":"middle","fontSize":9,"color":"#ababab"},
"encoding":{"x":{"field":"d","type":"temporal"},"y":{"field":"p","type":"quantitative"},"text":{"field":"t"}}},
{"data":{"name":"notes"},"transform":[{"filter":"datum.k=='mode'"}],"mark":{"type":"text","align":"right","baseline":"middle","fontSize":9.5,"color":"#000000"},
"encoding":{"x":{"field":"d","type":"temporal"},"y":{"field":"p","type":"quantitative"},"text":{"field":"t"}}},
{"data":{"name":"tags"},"transform":[{"filter":"datum.k=='ma200'"}],"mark":{"type":"point","shape":"M-1,-0.4H1V0.4H-1Z","size":900,"filled":true,"opacity":1,"strokeWidth":0,"color":"#ff1a1a"},
"encoding":{"x":{"datum":{"year":2019,"month":5,"date":3,"utc":true},"type":"temporal"},"y":{"field":"v","type":"quantitative"}}},
{"data":{"name":"tags"},"transform":[{"filter":"datum.k=='close'"}],"mark":{"type":"point","shape":"M-1,-0.423H1V0.423H-1Z","size":676,"filled":true,"opacity":1,"strokeWidth":0,"color":"#c6c6c6"},
"encoding":{"x":{"datum":{"year":2019,"month":4,"date":23,"utc":true},"type":"temporal"},"y":{"field":"v","type":"quantitative"}}},
{"data":{"name":"tags"},"transform":[{"filter":"datum.k=='ma50'"}],"mark":{"type":"point","shape":"M-1,-0.423H1V0.423H-1Z","size":676,"filled":true,"opacity":1,"strokeWidth":0,"color":"#3a7cf5"},
"encoding":{"x":{"datum":{"year":2019,"month":4,"date":23,"utc":true},"type":"temporal"},"y":{"field":"v","type":"quantitative"}}},
{"data":{"name":"tags"},"transform":[{"filter":"datum.pn=='price'"}],"mark":{"type":"text","align":"left","baseline":"middle","fontSize":9.5},
"encoding":{"x":{"datum":{"year":2019,"month":3,"date":9,"utc":true},"type":"temporal"},"y":{"field":"v","type":"quantitative"},"text":{"field":"t"},"color":{"condition":{"test":"datum.k=='close'","value":"#000000"},"value":"#ffffff"}}}
]
},
{
"width":450,"height":40,
"layer":[
{"data":{"name":"w"},"mark":{"type":"rule","color":"#cdcdcd","strokeWidth":1},
"encoding":{"x":{"field":"d","type":"temporal","scale":{"nice":false,"domain":[{"year":2014,"month":11,"date":26,"hours":18,"utc":true},{"year":2019,"month":9,"date":25,"hours":6,"utc":true}]},"axis":{"orient":"bottom","labels":false,"ticks":false,"grid":false,"title":null,"domainColor":"#3a3a3a","domainWidth":1.6}},
"y":{"field":"v","type":"quantitative","scale":{"nice":false,"zero":false,"domain":[-8100000,208100000]},"axis":{"orient":"right","offset":-53,"values":[0,100000000],"tickCount":5,"labelExpr":"format(datum.value,'d')","ticks":false,"tickSize":0,"labelAlign":"right","labelPadding":52,"labelOverlap":false,"labelOffset":{"condition":{"test":"datum.value==0","value":-6},"value":0},"domainColor":"#e3cf93","domainDash":[1,1],"grid":false,"title":null}},"y2":{"datum":0}}},
{"data":{"name":"ptitles"},"transform":[{"filter":"datum.pn=='vol'"}],"mark":{"type":"text","align":"left","baseline":"middle","fontSize":9.5,"color":"#000000"},
"encoding":{"x":{"datum":{"year":2014,"month":12,"date":17,"utc":true},"type":"temporal"},"y":{"field":"v","type":"quantitative"},"text":{"field":"t"}}},
{"data":{"name":"tags"},"transform":[{"filter":"datum.pn=='vol'"}],"mark":{"type":"point","shape":"M-1,-0.227H1V0.227H-1Z","size":1936,"filled":true,"opacity":1,"strokeWidth":0,"color":"#7c7c7c","yOffset":-4},
"encoding":{"x":{"datum":{"year":2019,"month":5,"date":28,"utc":true},"type":"temporal"},"y":{"field":"v","type":"quantitative"}}},
{"data":{"name":"tags"},"transform":[{"filter":"datum.pn=='vol'"}],"mark":{"type":"text","align":"left","baseline":"middle","fontSize":9.5,"color":"#111111","yOffset":-4},
"encoding":{"x":{"datum":{"year":2019,"month":3,"date":9,"utc":true},"type":"temporal"},"y":{"field":"v","type":"quantitative"},"text":{"field":"t"}}}
]
},
{
"width":450,"height":39,
"layer":[
{"data":{"name":"w"},"mark":{"type":"rule","strokeWidth":1.9},
"encoding":{"x":{"field":"d","type":"temporal","scale":{"nice":false,"domain":[{"year":2014,"month":11,"date":26,"hours":18,"utc":true},{"year":2019,"month":9,"date":25,"hours":6,"utc":true}]},"axis":{"orient":"bottom","labels":false,"ticks":false,"grid":false,"title":null,"domainColor":"#3a3a3a","domainWidth":1.6}},
"y":{"field":"hi","type":"quantitative","scale":{"nice":false,"zero":false,"domain":[-0.383,0.917]},"axis":{"orient":"right","offset":-53,"values":[0.25],"labelExpr":"replace(format(datum.value,'.4f'),'.',',')","ticks":false,"tickSize":0,"labelAlign":"right","labelPadding":52,"labelOverlap":false,"domainColor":"#e3cf93","domainDash":[1,1],"grid":false,"title":null}},"y2":{"datum":0},
"color":{"condition":{"test":"datum.hi >= 0","value":"#80ef80"},"value":"#f67676"}}},
{"data":{"name":"w"},"mark":{"type":"line","color":"#4fe3f0","strokeWidth":1},
"encoding":{"x":{"field":"d","type":"temporal"},"y":{"field":"m","type":"quantitative"}}},
{"data":{"name":"w"},"mark":{"type":"line","color":"#ffb36b","strokeWidth":1},
"encoding":{"x":{"field":"d","type":"temporal"},"y":{"field":"s","type":"quantitative"}}},
{"data":{"name":"ptitles"},"transform":[{"filter":"datum.pn=='macd'"}],"mark":{"type":"text","align":"left","baseline":"middle","fontSize":9.5,"color":"#000000"},
"encoding":{"x":{"datum":{"year":2014,"month":12,"date":17,"utc":true},"type":"temporal"},"y":{"field":"v","type":"quantitative"},"text":{"field":"t"}}},
{"data":{"name":"tags"},"transform":[{"filter":"datum.pn=='macd'"}],"mark":{"type":"point","shape":"M-1,-0.3H1V0.3H-1Z","size":900,"filled":true,"opacity":1,"strokeWidth":0,"color":"#ffa31a"},
"encoding":{"x":{"datum":{"year":2019,"month":5,"date":3,"utc":true},"type":"temporal"},"y":{"field":"v","type":"quantitative"}}},
{"data":{"name":"tags"},"transform":[{"filter":"datum.pn=='macd'"}],"mark":{"type":"text","align":"left","baseline":"middle","fontSize":9.5,"color":"#111111"},
"encoding":{"x":{"datum":{"year":2019,"month":3,"date":9,"utc":true},"type":"temporal"},"y":{"field":"v","type":"quantitative"},"text":{"field":"t"}}}
]
},
{
"width":450,"height":38,
"layer":[
{"data":{"name":"bands"},"transform":[{"filter":"datum.k=='ob'"}],"mark":{"type":"rect","color":"#b5f3a8"},
"encoding":{"x":{"field":"d1","type":"temporal","scale":{"nice":false,"domain":[{"year":2014,"month":11,"date":26,"hours":18,"utc":true},{"year":2019,"month":9,"date":25,"hours":6,"utc":true}]},
"axis":{"orient":"bottom","tickCount":40,"values":[{"year":2015,"month":1,"date":1,"utc":true},{"year":2015,"month":4,"date":1,"utc":true},{"year":2015,"month":7,"date":1,"utc":true},{"year":2015,"month":10,"date":1,"utc":true},{"year":2016,"month":1,"date":1,"utc":true},{"year":2016,"month":4,"date":1,"utc":true},{"year":2016,"month":7,"date":1,"utc":true},{"year":2016,"month":10,"date":1,"utc":true},{"year":2017,"month":1,"date":1,"utc":true},{"year":2017,"month":4,"date":1,"utc":true},{"year":2017,"month":7,"date":1,"utc":true},{"year":2017,"month":10,"date":1,"utc":true},{"year":2018,"month":1,"date":1,"utc":true},{"year":2018,"month":4,"date":1,"utc":true},{"year":2018,"month":7,"date":1,"utc":true},{"year":2018,"month":10,"date":1,"utc":true},{"year":2019,"month":1,"date":1,"utc":true}],
"labelExpr":"utcmonth(datum.value)==0 ? \"'\" + utcFormat(datum.value,'%y') : (utcmonth(datum.value)==3 ? 'Apr' : (utcmonth(datum.value)==6 ? 'Jul' : 'Okt'))",
"labelOverlap":false,"labelBound":false,"labelFontSize":10.5,"labelPadding":0,"tickSize":2,"tickColor":"#909090","grid":false,"title":null,"domainColor":"#3a3a3a","domainWidth":1.6}},"x2":{"field":"d2"},
"y":{"field":"lo","type":"quantitative","scale":{"nice":false,"zero":false,"domain":[17.9,104.7]},"axis":{"orient":"right","offset":-53,"values":[30,70],"tickCount":5,"labelExpr":"replace(format(datum.value,'.4f'),'.',',')","ticks":false,"tickSize":0,"labelAlign":"right","labelPadding":52,"labelOverlap":false,"domainColor":"#e3cf93","domainDash":[1,1],"grid":false,"title":null}},"y2":{"field":"hi"}}},
{"data":{"name":"bands"},"transform":[{"filter":"datum.k=='os'"}],"mark":{"type":"rect","color":"#f6b4b4"},
"encoding":{"x":{"field":"d1","type":"temporal"},"x2":{"field":"d2"},"y":{"field":"lo","type":"quantitative"},"y2":{"field":"hi"}}},
{"data":{"name":"w"},"mark":{"type":"line","color":"#6e6e6e","strokeWidth":1},
"encoding":{"x":{"field":"d","type":"temporal"},"y":{"field":"r","type":"quantitative"}}},
{"data":{"name":"ptitles"},"transform":[{"filter":"datum.pn=='rsi'"}],"mark":{"type":"text","align":"left","baseline":"middle","fontSize":9.5,"color":"#000000"},
"encoding":{"x":{"datum":{"year":2014,"month":12,"date":17,"utc":true},"type":"temporal"},"y":{"field":"v","type":"quantitative"},"text":{"field":"t"}}},
{"data":{"name":"tags"},"transform":[{"filter":"datum.pn=='rsi'"}],"mark":{"type":"point","shape":"M-1,-0.278H1V0.278H-1Z","size":1296,"filled":true,"opacity":1,"strokeWidth":0,"color":"#111111"},
"encoding":{"x":{"datum":{"year":2019,"month":5,"date":12,"utc":true},"type":"temporal"},"y":{"field":"v","type":"quantitative"}}},
{"data":{"name":"tags"},"transform":[{"filter":"datum.pn=='rsi'"}],"mark":{"type":"text","align":"left","baseline":"middle","fontSize":9.5,"color":"#ffffff"},
"encoding":{"x":{"datum":{"year":2019,"month":3,"date":9,"utc":true},"type":"temporal"},"y":{"field":"v","type":"quantitative"},"text":{"field":"t"}}}
]
}
]
}
